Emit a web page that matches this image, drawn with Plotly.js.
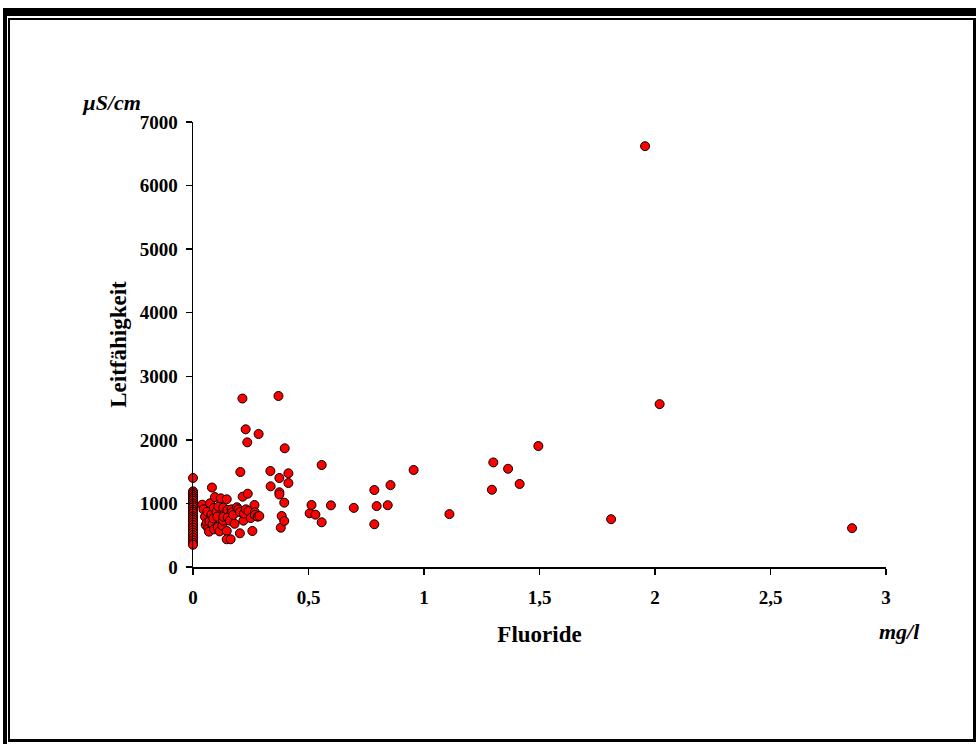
<!DOCTYPE html>
<html>
<head>
<meta charset="utf-8">
<script src="https://cdn.plot.ly/plotly-3.0.1.min.js"></script>
<style>
  html, body { margin: 0; padding: 0; background: #fff; }
  #wrap { position: relative; width: 976px; height: 744px; overflow: hidden; }
  #chart { position: absolute; left: 0; top: 0; width: 976px; height: 744px; }
  .fr { position: absolute; background: #000; pointer-events: none; }
</style>
</head>
<body>
<div id="wrap">
  <div id="chart"></div>
  <div class="fr" style="left:3px;top:8px;width:973px;height:8px;"></div>
  <div class="fr" style="left:3px;top:8px;width:4px;height:736px;"></div>
  <div class="fr" style="left:8px;top:18px;width:968px;height:2px;"></div>
  <div class="fr" style="left:8px;top:18px;width:2px;height:724px;"></div>
  <div class="fr" style="left:8px;top:739px;width:968px;height:3px;"></div>
  <div class="fr" style="left:973px;top:18px;width:3px;height:724px;"></div>
</div>
<script>
// Fluoride (mg/l) values
const fluoride = [
  0,0,0,0,0,0,0,0,0,0,0,0,0,0,0,0,0,0,0,0,0,0,0,0,0,0,
  0.04,0.045,0.052,0.055,0.06,0.062,0.066,0.069,0.071,0.074,0.08,0.082,0.085,0.088,0.09,0.091,0.095,
  0.102,0.105,0.107,0.11,0.115,0.12,0.127,0.13,0.131,0.131,0.146,0.146,0.146,0.149,0.15,0.16,0.163,
  0.167,0.17,0.174,0.18,0.19,0.196,0.203,0.203,0.205,0.214,0.215,0.218,0.22,0.228,0.229,0.235,0.237,
  0.24,0.25,0.257,0.266,0.268,0.268,0.28,0.284,0.287,0.335,0.336,0.37,0.374,0.374,0.374,0.38,0.384,
  0.395,0.395,0.397,0.413,0.413,0.505,0.513,0.53,0.557,0.557,0.597,0.696,0.785,0.785,0.795,0.843,
  0.855,0.955,1.11,1.294,1.30,1.364,1.414,1.495,1.81,1.957,2.02,2.853
];
// Leitfähigkeit (µS/cm) values
const leitfaehigkeit = [
  1400,1190,1160,1130,1100,1070,1040,1000,970,940,900,870,840,800,770,740,700,660,620,580,540,500,460,420,380,350,
  980,907,791,660,700,870,609,556,713,1002,830,1250,676,766,930,593,1100,
  870,791,629,950,560,1080,650,730,933,791,1065,567,436,897,780,729,436,
  907,860,818,680,940,907,865,530,1494,2650,1106,729,840,2166,907,1961,1153,
  880,770,567,975,860,818,791,2092,802,1510,1269,2690,1400,1175,1140,618,802,
  1012,724,1867,1474,1321,845,975,823,1604,703,970,930,1211,672,958,972,
  1288,1526,832,1215,1645,1545,1306,1903,752,6620,2562,611
];
const xTickVals = [0, 0.5, 1, 1.5, 2, 2.5, 3];
const xTickText = ['0', '0,5', '1', '1,5', '2', '2,5', '3'];
const yTickVals = [0, 1000, 2000, 3000, 4000, 5000, 6000, 7000];
const yTickText = ['0', '1000', '2000', '3000', '4000', '5000', '6000', '7000'];

const serif = 'Liberation Serif, Times New Roman, serif';

const trace = {
  type: 'scatter',
  mode: 'markers',
  x: fluoride,
  y: leitfaehigkeit,
  cliponaxis: false,
  marker: { color: '#ff0000', size: 9, line: { color: '#000', width: 1 } },
  hoverinfo: 'x+y'
};

const layout = {
  width: 976, height: 744,
  margin: { l: 193, r: 90, t: 122, b: 177, autoexpand: false },
  paper_bgcolor: '#fff', plot_bgcolor: '#fff',
  showlegend: false,
  font: { family: serif, color: '#000' },
  xaxis: {
    range: [0, 3], autorange: false,
    tickmode: 'array', tickvals: xTickVals, ticktext: xTickText,
    showgrid: false, zeroline: false,
    showline: true, linecolor: '#000', linewidth: 1.5,
    ticks: 'outside', ticklen: 6, tickwidth: 1.5, tickcolor: '#000',
    ticklabelstandoff: 7,
    tickfont: { family: serif, size: 19, color: '#000', weight: 'bold' },
    title: { text: 'Fluoride', font: { family: serif, size: 23, color: '#000', weight: 'bold' }, standoff: 18 },
    automargin: false
  },
  yaxis: {
    range: [0, 7000], autorange: false,
    tickmode: 'array', tickvals: yTickVals, ticktext: yTickText,
    showgrid: false, zeroline: false,
    showline: true, linecolor: '#000', linewidth: 1.5,
    ticks: 'outside', ticklen: 6, tickwidth: 1.5, tickcolor: '#000',
    ticklabelstandoff: 4,
    tickfont: { family: serif, size: 19, color: '#000', weight: 'bold' },
    title: { text: 'Leitfähigkeit', font: { family: serif, size: 23, color: '#000', weight: 'bold' }, standoff: 6 },
    automargin: false
  },
  annotations: [
    { text: 'µS/cm', xref: 'paper', yref: 'paper', x: -0.118, y: 1.043, showarrow: false,
      xanchor: 'center', yanchor: 'middle',
      font: { family: serif, size: 22, color: '#000', weight: 'bold', style: 'italic' } },
    { text: 'mg/l', xref: 'paper', yref: 'paper', x: 1.019, y: -0.146, showarrow: false,
      xanchor: 'center', yanchor: 'middle',
      font: { family: serif, size: 22, color: '#000', weight: 'bold', style: 'italic' } }
  ]
};

Plotly.newPlot('chart', [trace], layout, { displayModeBar: false, staticPlot: true });
</script>
</body>
</html>
